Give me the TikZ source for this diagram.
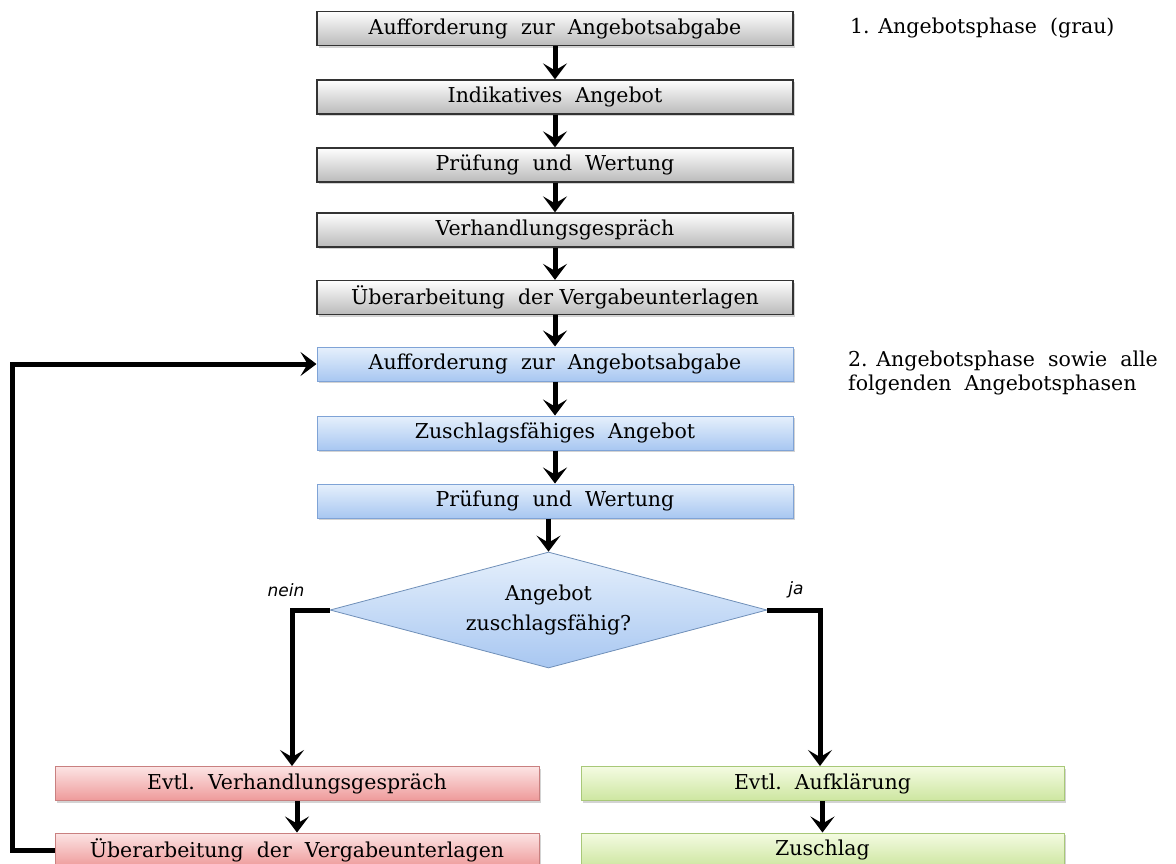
\documentclass[tikz,border=0pt]{standalone}
\usepackage{fontspec}
\setmainfont{DejaVu Serif}
\newfontfamily\labfont{DejaVu Sans}
\usetikzlibrary{arrows.meta,shapes.geometric,shadows}
\definecolor{gtop}{HTML}{FEFEFE}
\definecolor{gbot}{HTML}{BABABA}
\definecolor{btop}{HTML}{E6F0FC}
\definecolor{bbot}{HTML}{A8C7F1}
\definecolor{bline}{HTML}{7FA3D6}
\definecolor{rtop}{HTML}{FCE4E4}
\definecolor{rbot}{HTML}{EE9A9A}
\definecolor{rline}{HTML}{C98080}
\definecolor{ntop}{HTML}{F4FBE2}
\definecolor{nbot}{HTML}{CDE6A0}
\definecolor{nline}{HTML}{A8C878}
\definecolor{dline}{HTML}{6F8FB8}
\begin{document}
\begin{tikzpicture}[x=1pt,y=-1pt,
  txt/.style={font=\fontsize{20.5}{26}\selectfont},
  box/.style={txt, rectangle, minimum height=34pt, inner sep=0pt,
    drop shadow={opacity=0.35,shadow xshift=1.5pt,shadow yshift=-2pt}},
  graybox/.style={box, minimum width=476pt, draw=black!80, line width=1.3pt, top color=gtop, bottom color=gbot},
  bluebox/.style={box, minimum width=476pt, draw=bline, line width=1pt, top color=btop, bottom color=bbot},
  redbox/.style={box, minimum width=484pt, draw=rline, line width=1pt, top color=rtop, bottom color=rbot},
  greenbox/.style={box, minimum width=483pt, draw=nline, line width=1pt, top color=ntop, bottom color=nbot},
  arr/.style={line width=5pt, -{Stealth[length=16pt,width=24pt,inset=7pt]}},
  lab/.style={font=\labfont\itshape\fontsize{17}{20}\selectfont},
]
\useasboundingbox (0,0) rectangle (1176,863);

\node[graybox] (g1) at (555,28.5) {Aufforderung\ \ zur\ \ Angebotsabgabe};
\node[graybox] (g2) at (555,97) {Indikatives\ \ Angebot};
\node[graybox] (g3) at (555,165) {Prüfung\ \ und\ \ Wertung};
\node[graybox] (g4) at (555,230) {Verhandlungsgespräch};
\node[graybox] (g5) at (555,297.5) {Überarbeitung\ \ der Vergabeunterlagen};

\node[bluebox] (b1) at (555,364) {Aufforderung\ \ zur\ \ Angebotsabgabe};
\node[bluebox] (b2) at (555,433) {Zuschlagsfähiges\ \ Angebot};
\node[bluebox] (b3) at (555,501) {Prüfung\ \ und\ \ Wertung};

\node[diamond, font=\fontsize{20.5}{30}\selectfont, aspect=3.77, minimum width=437pt, minimum height=116pt, inner sep=0pt,
  draw=dline, line width=0.8pt, top color=btop, bottom color=bbot, align=center] (d) at (548.5,610)
  {Angebot\\zuschlagsfähig?};

\node[redbox] (r1) at (297,783.5) {Evtl.\ \ Verhandlungsgespräch};
\node[redbox] (r2) at (297,850) {Überarbeitung\ \ der\ \ Vergabeunterlagen};
\node[greenbox] (n1) at (822.5,783.5) {Evtl.\ \ Aufklärung};
\node[greenbox] (n2) at (822.5,850) {Zuschlag};

\node[txt, anchor=west, inner sep=0pt] (t1) at (850,28) {1. Angebotsphase\ \ (grau)};
\node[txt, anchor=north west, align=left, inner sep=0pt, font=\fontsize{20.5}{23.5}\selectfont] (t2) at (848,351) {2. Angebotsphase\ \ sowie\ \ alle\\folgenden\ \ Angebotsphasen};

\node[lab] (nein) at (286,590) {nein};
\node[lab] (ja) at (796,590) {ja};

\draw[arr] (g1) -- (g2);
\draw[arr] (g2) -- (g3);
\draw[arr] (g3) -- (g4);
\draw[arr] (g4) -- (g5);
\draw[arr] (g5) -- (b1);
\draw[arr] (b1) -- (b2);
\draw[arr] (b2) -- (b3);
\draw[arr] (b3.south -| d.north) -- (d.north);
\draw[arr] (d.west) -| ([xshift=-5pt]r1.north);
\draw[arr] (d.east) -| ([xshift=-2.5pt]n1.north);
\draw[arr] (r1) -- (r2);
\draw[arr] (n1) -- (n2);
\draw[arr, line join=miter] (r2.west) -- ++(-42,0) |- (b1.west);
\end{tikzpicture}
\end{document}
